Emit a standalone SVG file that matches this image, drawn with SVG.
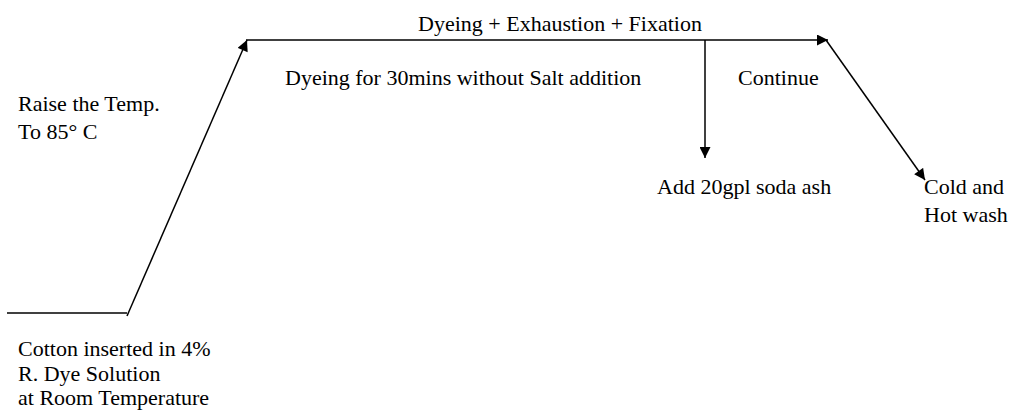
<svg xmlns="http://www.w3.org/2000/svg" width="1009" height="410" viewBox="0 0 1009 410">
<style>
text{font-family:"Liberation Serif","Times New Roman",serif;font-size:22px;fill:#000}
.ln{stroke:#000;stroke-width:1.5;fill:none}
</style>
<defs>
<marker id="ah" viewBox="0 0 10 10" refX="10" refY="5" markerWidth="12" markerHeight="11" markerUnits="userSpaceOnUse" orient="auto">
<path d="M0,0 L10,5 L0,10 z" fill="#000"/>
</marker>
</defs>
<rect width="1009" height="410" fill="#fff"/>
<g id="connectors">
<line class="ln" x1="7" y1="313" x2="127" y2="313"/>
<line class="ln" x1="127" y1="316" x2="247" y2="40" marker-end="url(#ah)"/>
<line class="ln" x1="246" y1="40" x2="828" y2="40" marker-end="url(#ah)"/>
<line class="ln" x1="705" y1="40" x2="705" y2="158" marker-end="url(#ah)"/>
<line class="ln" x1="826" y1="40" x2="925" y2="180" marker-end="url(#ah)"/>
</g>
<g id="title"><text x="560" y="31" text-anchor="middle">Dyeing + Exhaustion + Fixation</text></g>
<g id="dyeing"><text x="285" y="85">Dyeing for 30mins without Salt addition</text></g>
<g id="continue"><text x="738" y="85">Continue</text></g>
<g id="raise"><text x="18" y="111">Raise the Temp.</text><text x="18" y="139">To 85° C</text></g>
<g id="soda"><text x="657" y="194">Add 20gpl soda ash</text></g>
<g id="wash"><text x="924" y="194">Cold and</text><text x="924" y="222">Hot wash</text></g>
<g id="cotton"><text x="18" y="356">Cotton inserted in 4%</text><text x="18" y="381">R. Dye Solution</text><text x="18" y="405">at Room Temperature</text></g>
</svg>
